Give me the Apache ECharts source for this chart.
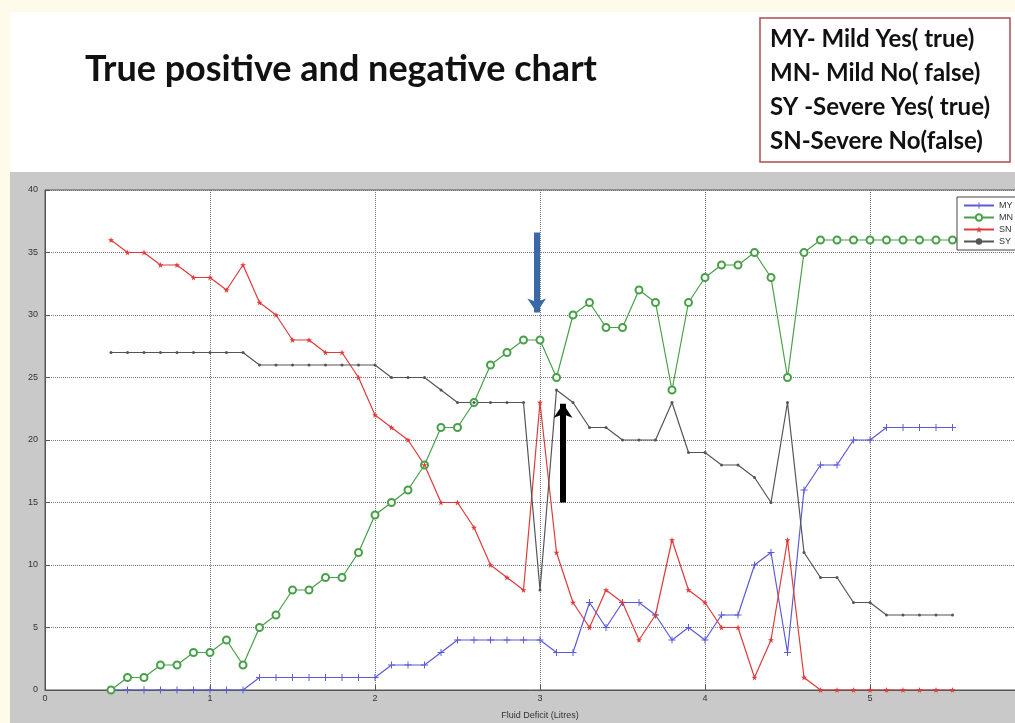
<!DOCTYPE html>
<html>
<head>
<meta charset="utf-8">
<script src="https://cdn.jsdelivr.net/npm/echarts@6/dist/echarts.min.js"></script>
<style>
  html, body { margin: 0; padding: 0; background: #fffbea; }
  #chart { width: 1015px; height: 723px; }
</style>
</head>
<body>
<div id="chart"></div>
<script>
(function () {
    'use strict';

    // fluid deficit (litres)
    var fluidDeficit = [0.4, 0.5, 0.6, 0.7, 0.8, 0.9, 1.0, 1.1, 1.2, 1.3, 1.4, 1.5, 1.6, 1.7, 1.8, 1.9,
        2.0, 2.1, 2.2, 2.3, 2.4, 2.5, 2.6, 2.7, 2.8, 2.9, 3.0, 3.1, 3.2, 3.3, 3.4, 3.5, 3.6, 3.7, 3.8, 3.9,
        4.0, 4.1, 4.2, 4.3, 4.4, 4.5, 4.6, 4.7, 4.8, 4.9, 5.0, 5.1, 5.2, 5.3, 5.4, 5.5];

    var myValues = [0, 0, 0, 0, 0, 0, 0, 0, 0, 1, 1, 1, 1, 1, 1, 1, 1, 2, 2, 2, 3, 4, 4, 4, 4, 4, 4,
        3, 3, 7, 5, 7, 7, 6, 4, 5, 4, 6, 6, 10, 11, 3, 16, 18, 18, 20, 20, 21, 21, 21, 21, 21];
    var mnValues = [0, 1, 1, 2, 2, 3, 3, 4, 2, 5, 6, 8, 8, 9, 9, 11, 14, 15, 16, 18, 21, 21, 23, 26, 27, 28, 28,
        25, 30, 31, 29, 29, 32, 31, 24, 31, 33, 34, 34, 35, 33, 25, 35, 36, 36, 36, 36, 36, 36, 36, 36, 36];
    var snValues = [36, 35, 35, 34, 34, 33, 33, 32, 34, 31, 30, 28, 28, 27, 27, 25, 22, 21, 20, 18, 15, 15, 13, 10, 9, 8, 23,
        11, 7, 5, 8, 7, 4, 6, 12, 8, 7, 5, 5, 1, 4, 12, 1, 0, 0, 0, 0, 0, 0, 0, 0, 0];
    var syValues = [27, 27, 27, 27, 27, 27, 27, 27, 27, 26, 26, 26, 26, 26, 26, 26, 26, 25, 25, 25, 24, 23, 23, 23, 23, 23, 8,
        24, 23, 21, 21, 20, 20, 20, 23, 19, 19, 18, 18, 17, 15, 23, 11, 9, 9, 7, 7, 6, 6, 6, 6, 6];

    var seriesNames = ['MY', 'MN', 'SN', 'SY'];
    var infoLines = ['MY- Mild Yes( true)', 'MN- Mild No( false)', 'SY -Severe Yes( true)', 'SN-Severe No(false)'];

    function pairs(values) {
        return fluidDeficit.map(function (x, i) { return [x, values[i]]; });
    }

    var plusPath = 'path://M4.3,0H5.7V4.3H10V5.7H5.7V10H4.3V5.7H0V4.3H4.3Z';
    var starPath = 'path://M5,0L6.2,3.6L10,3.6L6.9,5.9L8.1,9.5L5,7.3L1.9,9.5L3.1,5.9L0,3.6L3.8,3.6Z';

    var myChart = echarts.init(document.getElementById('chart'));

    var option = {
        animation: false,
        graphic: [
            { type: 'rect', z: -10, shape: { x: 10, y: 12, width: 1005, height: 711 }, style: { fill: '#ffffff' } },
            { type: 'rect', z: -9, shape: { x: 10, y: 172, width: 1005, height: 551 }, style: { fill: '#c9c9c9' } }
        ],
        title: [{
            text: 'True positive and negative chart',
            left: 80,
            top: 46,
            textStyle: { fontFamily: 'Lato', fontWeight: 'bold', fontSize: 36, color: '#111' }
        }, {
            text: infoLines.join('\n'),
            left: 760,
            top: 18,
            borderColor: '#b04a52',
            borderWidth: 1.5,
            padding: [4, 20, 4, 10],
            textStyle: { fontFamily: 'Lato', fontWeight: 'bold', fontSize: 24, lineHeight: 34, color: '#111' }
        }],
        legend: {
            orient: 'vertical',
            left: 957,
            top: 197,
            itemWidth: 30,
            itemHeight: 8,
            itemGap: 3,
            padding: [4, 6],
            backgroundColor: '#fff',
            borderColor: '#444',
            borderWidth: 1,
            borderRadius: 0,
            textStyle: { fontSize: 9, color: '#333' },
            data: seriesNames
        },
        grid: {
            left: 45,
            top: 190,
            bottom: 33,
            right: -20,
            outerBoundsMode: 'none',
            show: true,
            backgroundColor: '#fff',
            borderColor: '#555',
            borderWidth: 1
        },
        xAxis: {
            type: 'value',
            min: 0,
            max: 6,
            interval: 1,
            name: 'Fluid Deficit (Litres)',
            nameLocation: 'middle',
            nameGap: 21,
            nameTextStyle: { fontSize: 9, color: '#333' },
            axisLine: { lineStyle: { color: '#555' } },
            axisTick: { inside: true, length: 5, lineStyle: { color: '#555' } },
            axisLabel: { fontSize: 9, color: '#333', margin: 4 },
            splitLine: { show: true, lineStyle: { type: 'dotted', color: '#777', width: 1 } }
        },
        yAxis: {
            type: 'value',
            min: 0,
            max: 40,
            interval: 5,
            axisLine: { show: true, lineStyle: { color: '#555' } },
            axisTick: { show: true, inside: true, length: 5, lineStyle: { color: '#555' } },
            axisLabel: { fontSize: 9, color: '#333', margin: 7 },
            splitLine: { show: true, lineStyle: { type: 'dotted', color: '#777', width: 1 } }
        },
        series: [{
            name: 'MY',
            type: 'line',
            data: pairs(myValues),
            symbol: plusPath,
            symbolSize: 7,
            color: '#5b5bd8',
            lineStyle: { width: 1.2 },
            markLine: {
                silent: true,
                symbol: ['none', 'arrow'],
                symbolSize: [14, 14],
                label: { show: false },
                data: [
                    [{ coord: [2.98, 36.6], lineStyle: { color: '#3b68a6', width: 6, type: 'solid' } }, { coord: [2.98, 30.2] }],
                    [{ coord: [3.14, 15], lineStyle: { color: '#000', width: 6, type: 'solid' } }, { coord: [3.14, 22.9] }]
                ]
            }
        }, {
            name: 'MN',
            type: 'line',
            data: pairs(mnValues),
            symbol: 'emptyCircle',
            symbolSize: 7,
            color: '#48a048',
            lineStyle: { width: 1.2 }
        }, {
            name: 'SN',
            type: 'line',
            data: pairs(snValues),
            symbol: starPath,
            symbolSize: 6,
            color: '#e03a3a',
            lineStyle: { width: 1.2 }
        }, {
            name: 'SY',
            type: 'line',
            data: pairs(syValues),
            symbol: 'circle',
            symbolSize: 3,
            color: '#555555',
            lineStyle: { width: 1.2 }
        }]
    };

    myChart.setOption(option);
    window.addEventListener('resize', function () {
        myChart.resize();
    });
})();
</script>
</body>
</html>
